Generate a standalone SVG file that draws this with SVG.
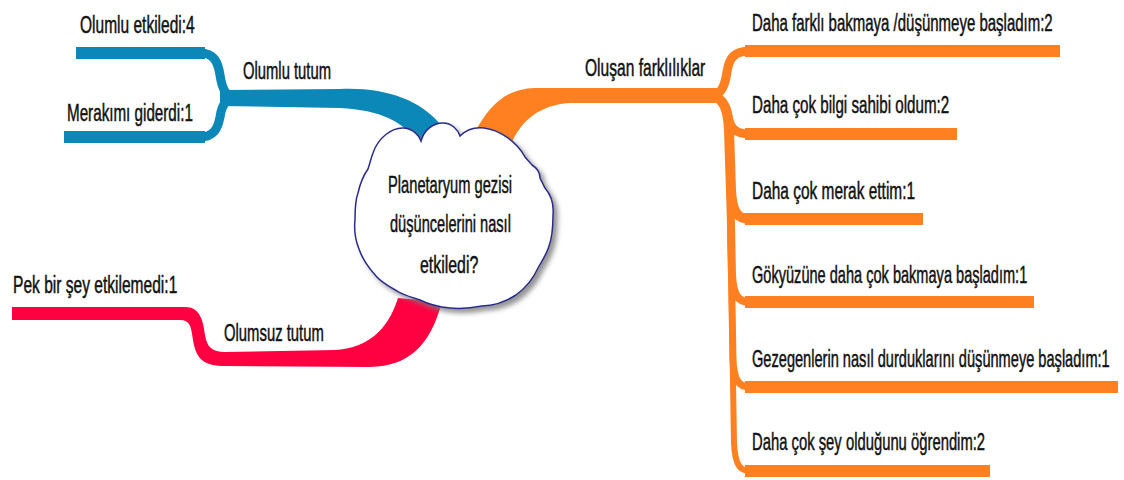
<svg xmlns="http://www.w3.org/2000/svg" width="1124" height="480" viewBox="0 0 1124 480">
<defs>
<filter id="shadow" x="-10%" y="-10%" width="130%" height="130%">
<feDropShadow dx="4" dy="4" stdDeviation="2.5" flood-color="#7a7a7a" flood-opacity="0.8"/>
</filter>
</defs>
<style>
.t{font-family:"Liberation Sans",Arial,sans-serif;font-size:24px;fill:#111;stroke:#111;stroke-width:0.5px;}
.blue{fill:#0B87B8;}
.bs{fill:none;stroke:#0B87B8;}
.org{fill:#FF8020;}
.os{fill:none;stroke:#FF8020;}
.red{fill:#FF0040;}
.bar{stroke-width:12;stroke-linecap:butt;}
</style>
<rect width="1124" height="480" fill="#ffffff"/>
<g id="connectors">
<path class="blue" d="M 220,90 L 340,89 C 385,87 420,100 440,124 L 416,142 C 405,122 380,110 340,108 L 220,106 Z"/>
<path class="bs bar" d="M 76,53 L 205,53"/>
<path class="bs" stroke-width="9" d="M 200,53 C 214,53 218,62 220,75 C 222,89 226,97 236,98"/>
<path class="bs bar" d="M 64,137 L 205,137"/>
<path class="bs" stroke-width="9" d="M 200,137 C 214,137 218,128 220,117 C 222,104 226,99 236,98"/>
<path class="red" d="M 12,307 L 185,307 C 200,307 203,320 205,335 C 207,347 212,352 225,352 L 335,350 C 368,348 388,330 398,298 L 442,302 C 430,345 410,366 370,367 L 225,366 C 205,366 196,360 193,340 C 191,326 190,320 180,320 L 12,320 Z"/>
<path class="org" d="M 475,132 C 490,105 505,89 535,88 L 718,88 L 720,103 L 570,103 C 540,105 522,120 512,142 Z"/>
<path class="os" stroke-width="9" d="M 712,96 C 722,94 725,85 727,72 C 729,58 734,51 750,51"/>
<path class="os" stroke-width="9" d="M 712,96 C 722,98 726,106 728,116 C 730,128 735,134 750,134"/>
<path class="os" stroke-width="10" d="M 712,96 C 724,98 728,110 729,130 L 731,190 C 732,210 736,219 750,219"/>
<path class="os" stroke-width="8" d="M 712,96 C 724,98 728,110 729,130 L 732,275 C 733,294 737,302 750,302"/>
<path class="os" stroke-width="7" d="M 712,96 C 724,98 728,110 729,130 L 733,360 C 734,379 738,387 750,387"/>
<path class="os" stroke-width="6" d="M 712,96 C 724,98 728,110 729,130 L 734,443 C 735,463 739,471 750,471"/>
<path class="os bar" d="M 745,51 L 1060,51"/>
<path class="os bar" d="M 745,134 L 957,134"/>
<path class="os bar" d="M 745,219 L 923,219"/>
<path class="os bar" d="M 745,302 L 1034,302"/>
<path class="os bar" d="M 745,387 L 1118,387"/>
<path class="os bar" d="M 745,471 L 990,471"/>
</g>
<g id="center">
<path filter="url(#shadow)" fill="#ffffff" stroke="#2A2A8C" stroke-width="1.5" d="M 373,153 C 378,138 392,127 404,128 C 413,129 419,135 421,141 C 424,130 433,123 443,123 C 452,123 458,130 460,136 C 466,130 475,127 484,128 C 500,130 517,142 525,157 L 532,165 C 537,168 540,173 540,178 L 545,188 C 551,195 554,205 553,215 C 553,228 552,238 549,246 C 546,256 541,262 538,268 C 534,277 527,287 516,295 C 505,302 494,306 482,306 C 472,308 460,309 450,308 C 438,307 428,304 420,300 C 411,297 403,295 397,291 C 388,286 381,282 376,276 C 367,266 362,258 359,249 C 355,239 354,229 355,220 C 355,211 355,201 358,193 C 360,184 363,176 368,169 C 370,163 371,158 373,153 Z"/>
<text class="t" transform="translate(388,193) scale(0.62,1)" textLength="200" lengthAdjust="spacingAndGlyphs">Planetaryum gezisi</text>
<text class="t" transform="translate(390,232) scale(0.62,1)" textLength="195" lengthAdjust="spacingAndGlyphs">düşüncelerini nasıl</text>
<text class="t" transform="translate(420,273) scale(0.62,1)" textLength="94" lengthAdjust="spacingAndGlyphs">etkiledi?</text>
</g>
<g id="olumlu-tutum"><text class="t" transform="translate(243,79) scale(0.62,1)" textLength="142" lengthAdjust="spacingAndGlyphs">Olumlu tutum</text></g>
<g id="olumlu-etkiledi"><text class="t" transform="translate(80,33) scale(0.62,1)" textLength="185" lengthAdjust="spacingAndGlyphs">Olumlu etkiledi:4</text></g>
<g id="merakimi-giderdi"><text class="t" transform="translate(67,121) scale(0.62,1)" textLength="203" lengthAdjust="spacingAndGlyphs">Merakımı giderdi:1</text></g>
<g id="olumsuz-tutum"><text class="t" transform="translate(224,341) scale(0.62,1)" textLength="161" lengthAdjust="spacingAndGlyphs">Olumsuz tutum</text></g>
<g id="pek-bir-sey"><text class="t" transform="translate(13,293) scale(0.62,1)" textLength="265" lengthAdjust="spacingAndGlyphs">Pek bir şey etkilemedi:1</text></g>
<g id="olusan-farkliliklar"><text class="t" transform="translate(585,76) scale(0.62,1)" textLength="194" lengthAdjust="spacingAndGlyphs">Oluşan farklılıklar</text></g>
<g id="f1"><text class="t" transform="translate(752,31) scale(0.62,1)" textLength="485" lengthAdjust="spacingAndGlyphs">Daha farklı bakmaya /düşünmeye başladım:2</text></g>
<g id="f2"><text class="t" transform="translate(752,113) scale(0.62,1)" textLength="318" lengthAdjust="spacingAndGlyphs">Daha çok bilgi sahibi oldum:2</text></g>
<g id="f3"><text class="t" transform="translate(752,199) scale(0.62,1)" textLength="263" lengthAdjust="spacingAndGlyphs">Daha çok merak ettim:1</text></g>
<g id="f4"><text class="t" transform="translate(752,283) scale(0.62,1)" textLength="444" lengthAdjust="spacingAndGlyphs">Gökyüzüne daha çok bakmaya başladım:1</text></g>
<g id="f5"><text class="t" transform="translate(752,367) scale(0.62,1)" textLength="577" lengthAdjust="spacingAndGlyphs">Gezegenlerin nasıl durduklarını düşünmeye başladım:1</text></g>
<g id="f6"><text class="t" transform="translate(752,450) scale(0.62,1)" textLength="376" lengthAdjust="spacingAndGlyphs">Daha çok şey olduğunu öğrendim:2</text></g>
</svg>
